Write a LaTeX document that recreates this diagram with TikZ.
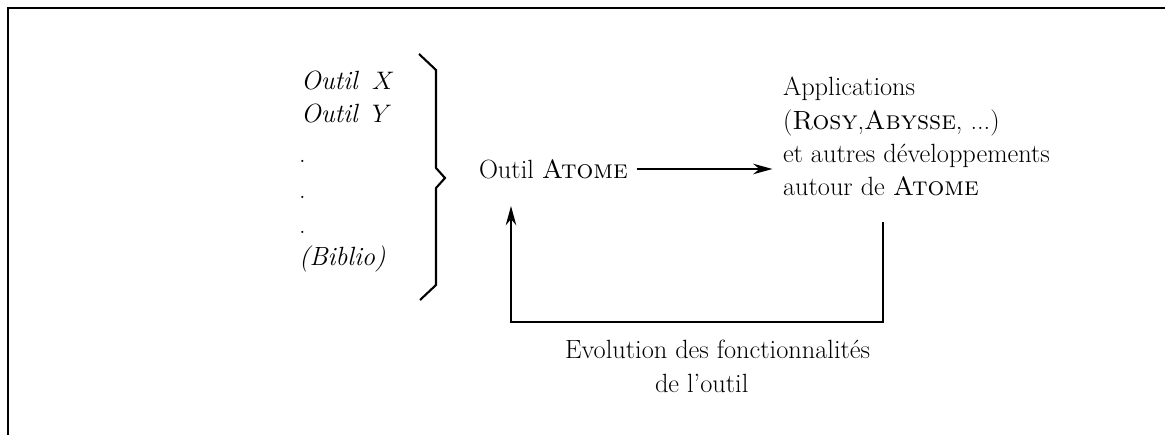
\documentclass[tikz,border=0pt]{standalone}
\usepackage{fontspec}
\usepackage{tikz}
\usetikzlibrary{positioning}
\usetikzlibrary{arrows.meta}

\newcommand\nomsc[1]{\textsc{\addfontfeature{LetterSpace=6}#1}}

\begin{document}
\begin{tikzpicture}[x=0.02cm, y=-0.02cm, font=\fontsize{15}{19}\selectfont,
    every node/.style={inner sep=0pt, outer sep=0pt},
    fleche/.style={-{Stealth[length=11pt, width=6pt]}, line width=1pt}]

      \useasboundingbox (0,0) rectangle (1165,435);

      % cadre (ouvert en bas et a droite)
      \draw[line width=1pt] (8,435) -- (8,8) -- (1165,8);

      \node[anchor=base west] (outilx) at (301,90) {\textit{Outil}\enspace$X$};
      \node[anchor=base west] (outily) at (301,123) {\textit{Outil}\enspace$Y$};

      \foreach \j/\y in {1/163, 2/199, 3/234} {
        \node[anchor=base west] (point\j) at (299,\y) {.};
      }

      \node[anchor=base west] (biblio) at (299,266) {\textit{(Biblio)}};

      % accolade
      \draw[line width=1.2pt] (419,54) -- (436,70) -- (436,168) -- (445,178)
        -- (436,188) -- (436,285) -- (420,300);

      \node[anchor=west] (atome) at (479,169) {Outil \nomsc{Atome}};

      \node[anchor=base west, align=left] (appli) at (783,196)
        {Applications\\(\nomsc{Rosy},\nomsc{Abysse}, ...)\\et autres développements\\autour de \nomsc{Atome}};

      \draw[fleche, shorten <=5pt, shorten >=6pt] (atome.east) -- (atome.east -| appli.west);

      % retour vers l'outil
      \coordinate (depart) at (883,222);
      \coordinate (coin) at (511,322);
      \coordinate (arrivee) at (511,206);
      \draw[fleche] (depart) |- (coin) -- (arrivee);

      \node[anchor=base west] (evol) at (565,358) {Evolution des fonctionnalités};
      \node[anchor=base west] (deoutil) at (655,392) {de l'outil};

    \end{tikzpicture}
\end{document}
